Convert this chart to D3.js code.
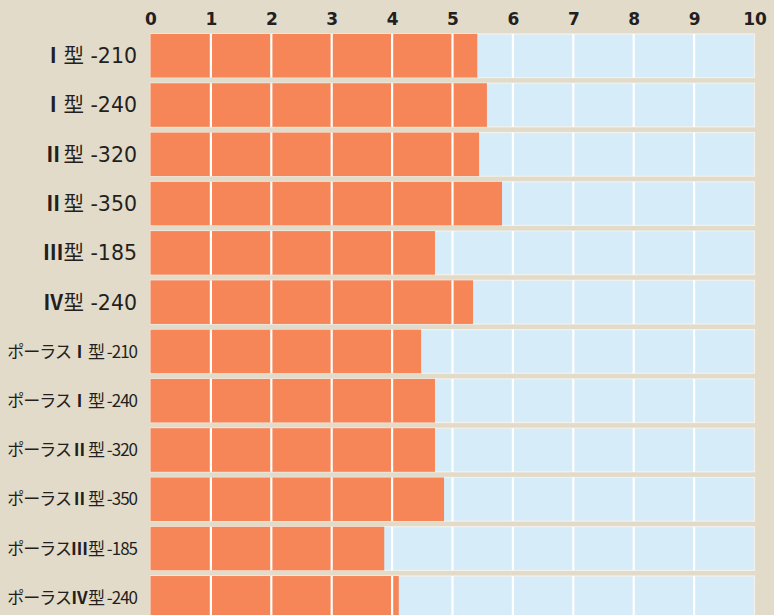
<!DOCTYPE html>
<html>
<head>
<meta charset="utf-8">
<script src="https://cdn.jsdelivr.net/npm/d3@7"></script>
<style>
  body { margin: 0; background: #e2dbca; overflow: hidden; }
</style>
</head>
<body>
<script>
// données
var numerals = ["Ⅰ", "Ⅰ", "Ⅱ", "Ⅱ", "Ⅲ", "Ⅳ", "Ⅰ", "Ⅰ", "Ⅱ", "Ⅱ", "Ⅲ", "Ⅳ"];
var categories = ["Ⅰ型 -210", "Ⅰ型 -240", "Ⅱ型 -320", "Ⅱ型 -350", "Ⅲ型 -185", "Ⅳ型 -240",
    "ポーラスⅠ型 -210", "ポーラスⅠ型 -240", "ポーラスⅡ型 -320", "ポーラスⅡ型 -350", "ポーラスⅢ型 -185", "ポーラスⅣ型 -240"];
var values = [5.41, 5.57, 5.44, 5.82, 4.71, 5.34, 4.48, 4.71, 4.71, 4.86, 3.87, 4.11];
var ticks = [0, 1, 2, 3, 4, 5, 6, 7, 8, 9, 10];

var width = 774;
var height = 615;

var svg = d3.select("body")
    .append("svg")
    .attr("width", width)
    .attr("height", height);

// échelles
var xscale = d3.scaleLinear()
    .domain([0, 10])
    .range([150.5, 754.5]);

var yscale = d3.scaleBand()
    .domain(categories)
    .range([31, 31 + 12 * 49.3])
    .paddingInner(0.115)
    .paddingOuter(0.06);

// axe du haut
var x_axis = d3.axisTop()
    .scale(xscale)
    .tickValues(ticks)
    .tickSize(0)
    .tickPadding(0);

var gx = svg.append("g")
    .attr("transform", "translate(0, 25)")
    .call(x_axis);
gx.select(".domain").remove();
gx.selectAll("text")
    .attr("fill", "#231f20")
    .style("font-family", "'DejaVu Sans', sans-serif")
    .style("font-weight", "bold")
    .style("font-size", "17px");

var rows = svg.append("g")
    .selectAll("g")
    .data(categories)
    .enter()
    .append("g");

// fond bleu clair
rows.append("rect")
    .attr("x", xscale(0))
    .attr("y", function (d) { return yscale(d); })
    .attr("width", xscale(10) - xscale(0))
    .attr("height", yscale.bandwidth())
    .style("fill", "#d6ecf9")
    .attr("stroke", "#f4f1ea")
    .attr("stroke-width", 1.2);

// barres
rows.append("rect")
    .attr("x", xscale(0))
    .attr("y", function (d) { return yscale(d); })
    .attr("width", function (d, i) { return xscale(values[i]) - xscale(0); })
    .attr("height", yscale.bandwidth())
    .style("fill", "#f68658");

// lignes de grille blanches
rows.each(function (d) {
    d3.select(this).selectAll("line")
        .data(ticks.slice(1, 10))
        .enter()
        .append("line")
        .attr("x1", function (t) { return xscale(t); })
        .attr("x2", function (t) { return xscale(t); })
        .attr("y1", yscale(d))
        .attr("y2", yscale(d) + yscale.bandwidth())
        .attr("stroke", "#ffffff")
        .attr("stroke-width", 2.2);
});

// étiquettes (chiffre romain en gras à part)
var labels = rows.append("text")
    .attr("x", 137)
    .attr("y", function (d) { return yscale(d) + yscale.bandwidth() / 2; })
    .attr("dy", "0.36em")
    .attr("text-anchor", "end")
    .attr("fill", "#231f20")
    .style("font-family", function (d, i) {
        return i < 6 ? "'DejaVu Sans', 'Noto Sans CJK JP', sans-serif" : "'Noto Sans CJK JP', sans-serif";
    })
    .style("font-size", function (d, i) { return i < 6 ? "20.5px" : "17px"; })
    .style("letter-spacing", function (d, i) { return i < 6 ? "0px" : "-1px"; });

labels.each(function (d, i) {
    var t = d3.select(this);
    var parts = d.split(numerals[i]);
    if (parts[0]) t.append("tspan").text(parts[0]);
    t.append("tspan")
        .style("font-family", "'Noto Sans CJK JP', sans-serif")
        .style("font-weight", "bold")
        .style("letter-spacing", "0px")
        .text(numerals[i]);
    t.append("tspan").text(parts[1]);
});
</script>
</body>
</html>
